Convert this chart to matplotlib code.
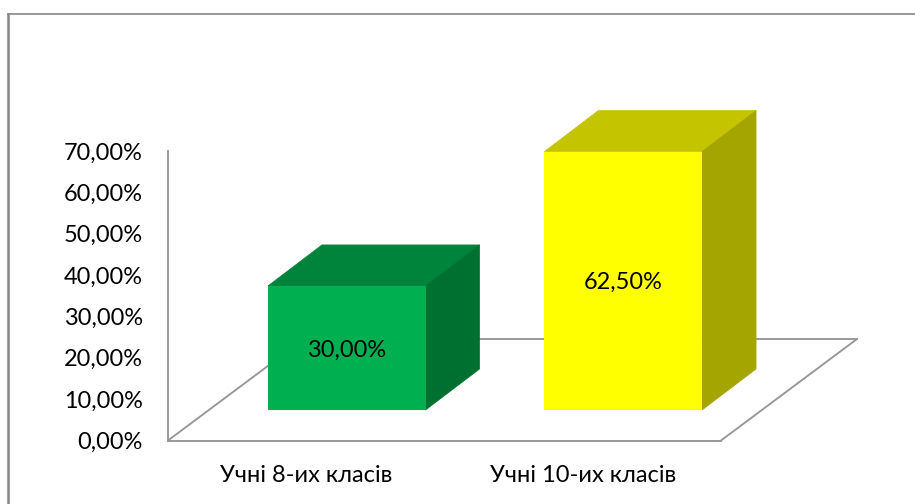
import matplotlib
matplotlib.use("Agg")
import matplotlib.pyplot as plt
from matplotlib.lines import Line2D
from matplotlib.patches import Polygon
from matplotlib.transforms import Affine2D

plt.rcParams['font.family'] = ['Lato', 'Open Sans']

categories = ['Учні 8-их класів', 'Учні 10-их класів']
values = [30.0, 62.5]
data_labels = ['30,00%', '62,50%']
yticks = [0, 10, 20, 30, 40, 50, 60, 70]
ytick_labels = ['0,00%', '10,00%', '20,00%', '30,00%', '40,00%', '50,00%', '60,00%', '70,00%']

front_colors = ['#00B050', '#FFFF00']
top_colors = ['#00833B', '#C4C400']
side_colors = ['#007030', '#A5A500']
axis_color = '#969696'

W, H = 915, 504
fig = plt.figure(figsize=(W / 100, H / 100), dpi=100)
fig.patch.set_facecolor('white')

# axes = the front edge of the floor, pixel positions measured on the picture
left, right, top, bottom = 168, 721, 151, 440.5
ax = fig.add_axes([left / W, 1 - bottom / H, (right - left) / W, (bottom - top) / H])
ax.set_xlim(-0.5, 1.5)
ax.set_ylim(0, 70)
ax.patch.set_alpha(0)

# depth of the fake 3d, in pixels
floor_dx, floor_dy = 136, 101.5
bar_shift = (40.5, 30.5)
bar_dx, bar_dy = 54, 41


def px(x, y):
    return ax.transData.transform((x, y))


def add_poly(points, color, z):
    ax.add_patch(Polygon(points, closed=True, facecolor=color, edgecolor=color, linewidth=0.5,
                         transform=None, zorder=z, clip_on=False))


# floor
p0 = px(-0.5, 0)
for a, b in [((0, 0), (floor_dx, floor_dy)),
             ((right - left, 0), (right - left + floor_dx, floor_dy)),
             ((floor_dx, floor_dy), (right - left + floor_dx, floor_dy))]:
    ax.add_line(Line2D([p0[0] + a[0], p0[0] + b[0]], [p0[1] + a[1], p0[1] + b[1]], color=axis_color,
                       lw=1.35, transform=None, zorder=1, clip_on=False))

# bars
width = 0.57
shift = ax.transData + Affine2D().translate(bar_shift[0], bar_shift[1])
label_shift = ax.transData + Affine2D().translate(bar_shift[0], bar_shift[1] - 2)
xs = range(len(values))
ax.bar(xs, values, width=width, color=front_colors, transform=shift, zorder=4, clip_on=False)
for i, v in enumerate(values):
    x0, y0 = px(i - width / 2, 0) + bar_shift
    x1, y1 = px(i + width / 2, v) + bar_shift
    add_poly([(x0, y1), (x1, y1), (x1 + bar_dx, y1 + bar_dy), (x0 + bar_dx, y1 + bar_dy)], top_colors[i], 3)
    add_poly([(x1, y0), (x1 + bar_dx, y0 + bar_dy), (x1 + bar_dx, y1 + bar_dy), (x1, y1)], side_colors[i], 3)
    ax.text(i, v / 2, data_labels[i], transform=label_shift, ha='center', va='center', fontsize=16.9,
            color='black', zorder=5)

# axes look
for s in ['top', 'right']:
    ax.spines[s].set_visible(False)
for s in ['left', 'bottom']:
    ax.spines[s].set_color(axis_color)
    ax.spines[s].set_linewidth(1.35)
ax.set_yticks(yticks)
ax.set_yticklabels(ytick_labels, fontsize=16.9)
ax.set_xticks(list(xs))
ax.set_xticklabels(categories, fontsize=17)
ax.tick_params(axis='both', length=0, colors='black')
ax.tick_params(axis='y', pad=18)
ax.tick_params(axis='x', pad=18)

# outer frame, cut off by the picture at right and bottom
fig.add_artist(Line2D([8 / W, 8 / W], [0, 1 - 13 / H], color='#868686', lw=1.8, solid_capstyle='butt'))
fig.add_artist(Line2D([7 / W, 1], [1 - 13.5 / H, 1 - 13.5 / H], color='#868686', lw=1.2, solid_capstyle='butt'))

fig.savefig('out.png', dpi=100)
